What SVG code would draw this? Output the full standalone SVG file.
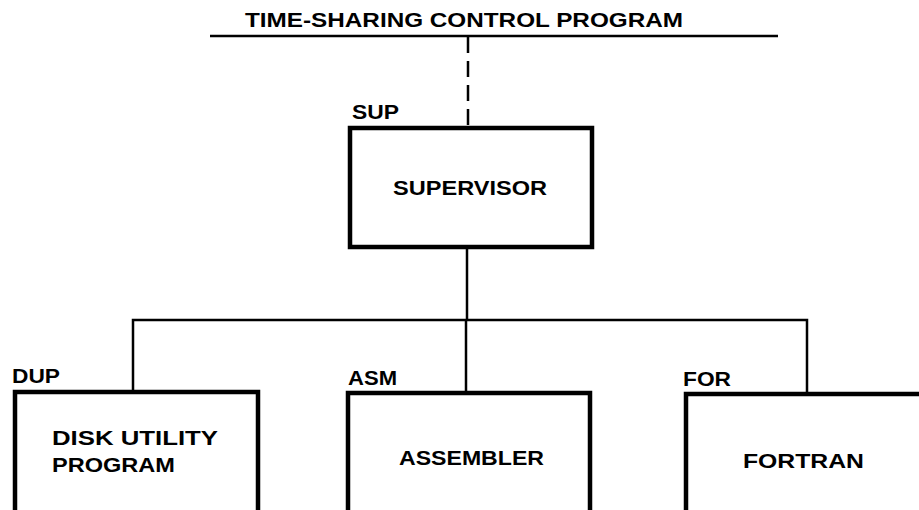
<svg xmlns="http://www.w3.org/2000/svg" width="919" height="510" viewBox="0 0 919 510">
<style>
.box{fill:none;stroke:#000;stroke-width:4.5}
.ln{fill:none;stroke:#000;stroke-width:2.5}
.lbl{font-family:"Liberation Sans",Arial,sans-serif;font-weight:bold;font-size:21px;fill:#000}
.txt{font-family:"Liberation Sans",Arial,sans-serif;font-weight:bold;font-size:21px;fill:#000}
</style>
<rect width="919" height="510" fill="#fff"/>
<g id="tscp">
<line class="ln" x1="210" y1="36" x2="778" y2="36" stroke-width="3"/>
<text class="txt" x="245" y="27" font-size="23" textLength="438" lengthAdjust="spacingAndGlyphs">TIME-SHARING CONTROL PROGRAM</text>
</g>
<g id="connectors">
<line class="ln" x1="468" y1="37" x2="468" y2="128" stroke-dasharray="16 8"/>
<polyline class="ln" points="467,247 467,320"/>
<polyline class="ln" points="133,392 133,320 807,320 807,394"/>
<line class="ln" x1="466" y1="320" x2="466" y2="393"/>
</g>
<g id="sup">
<rect class="box" x="350" y="128" width="242" height="119"/>
<text class="lbl" x="352" y="119" textLength="47" lengthAdjust="spacingAndGlyphs">SUP</text>
<text class="txt" x="393" y="195" textLength="154" lengthAdjust="spacingAndGlyphs">SUPERVISOR</text>
</g>
<g id="dup">
<rect class="box" x="15" y="392" width="243" height="140"/>
<text class="lbl" x="12" y="383" textLength="48" lengthAdjust="spacingAndGlyphs">DUP</text>
<text class="txt" x="52" y="445" textLength="166" lengthAdjust="spacingAndGlyphs">DISK UTILITY</text>
<text class="txt" x="52" y="472" textLength="123" lengthAdjust="spacingAndGlyphs">PROGRAM</text>
</g>
<g id="asm">
<rect class="box" x="348" y="393" width="242" height="140"/>
<text class="lbl" x="348" y="385" textLength="49" lengthAdjust="spacingAndGlyphs">ASM</text>
<text class="txt" x="399" y="465" textLength="145" lengthAdjust="spacingAndGlyphs">ASSEMBLER</text>
</g>
<g id="for">
<rect class="box" x="686" y="394" width="260" height="140"/>
<text class="lbl" x="683" y="386" textLength="48" lengthAdjust="spacingAndGlyphs">FOR</text>
<text class="txt" x="743" y="468" textLength="121" lengthAdjust="spacingAndGlyphs">FORTRAN</text>
</g>
</svg>
